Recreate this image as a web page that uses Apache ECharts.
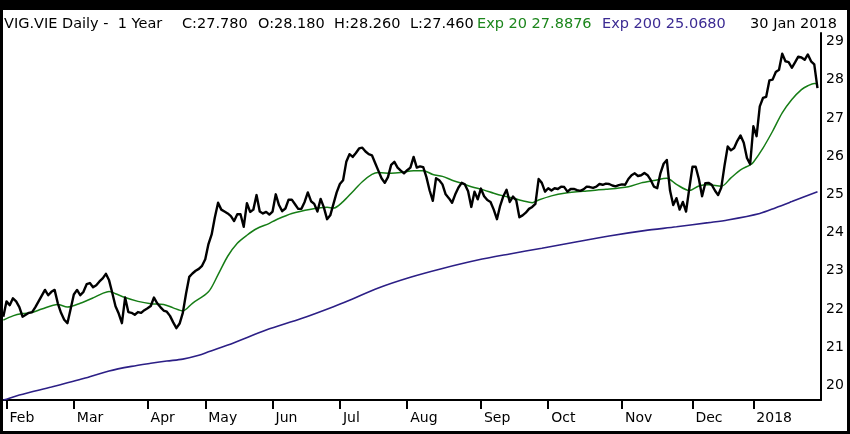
<!DOCTYPE html>
<html>
<head>
<meta charset="utf-8">
<script src="https://cdn.jsdelivr.net/npm/echarts@6/dist/echarts.min.js"></script>
<style>
html,body{margin:0;padding:0;background:#fff;}
#c{width:850px;height:434px;}
</style>
</head>
<body>
<div id="c"></div>
<script>
// ---- data (x = trading-day number, day 0 = 31 Jan 2017) ----
const monthTickDay = [1, 22, 45, 63, 84, 105, 126, 149, 170, 193, 215, 234];
const monthLabels = ['Feb', 'Mar', 'Apr', 'May', 'Jun', 'Jul', 'Aug', 'Sep', 'Oct', 'Nov', 'Dec', '2018'];
const priceTicks = [20, 21, 22, 23, 24, 25, 26, 27, 28, 29];

const closeFirstDay = 0;
const closes = [
  21.8, 22.2, 22.1, 22.28, 22.2, 22.05, 21.8, 21.85, 21.9, 21.92,
  22.05, 22.2, 22.35, 22.5, 22.36, 22.45, 22.5, 22.15, 21.9, 21.72,
  21.63, 22.0, 22.38, 22.5, 22.36, 22.45, 22.65, 22.68, 22.57, 22.62,
  22.72, 22.8, 22.92, 22.75, 22.42, 22.07, 21.88, 21.63, 22.3, 21.92,
  21.9, 21.85, 21.92, 21.9,
  21.97, 22.02, 22.08, 22.3, 22.15, 22.05, 21.96, 21.93, 21.82, 21.65,
  21.5, 21.62, 21.9, 22.4, 22.84, 22.93, 23.0, 23.05, 23.13, 23.3,
  23.7, 23.95, 24.4, 24.78, 24.6, 24.55, 24.5, 24.43, 24.3, 24.48,
  24.48, 24.15, 24.77, 24.54, 24.6, 24.98, 24.55, 24.5,
  24.54, 24.47, 24.55, 25.0, 24.72, 24.56, 24.63, 24.86, 24.86, 24.74,
  24.62, 24.62, 24.8, 25.05, 24.82, 24.75, 24.55, 24.88, 24.66, 24.35,
  24.45, 24.75, 25.05, 25.27, 25.37, 25.85, 26.05, 25.98, 26.08, 26.2,
  26.22, 26.12, 26.05, 26.02, 25.82, 25.62, 25.42, 25.3, 25.45, 25.77,
  25.85, 25.7, 25.62, 25.55, 25.63, 25.7,
  25.98, 25.7, 25.73, 25.71, 25.45, 25.1, 24.83, 25.42, 25.37, 25.26,
  25.0, 24.9, 24.78, 25.0, 25.18, 25.3, 25.26, 25.08, 24.67, 25.07,
  24.87, 25.15, 24.95, 24.85, 24.8, 24.6, 24.35, 24.7, 24.95, 25.12,
  24.8, 24.94, 24.85, 24.4, 24.45, 24.52, 24.62, 24.67, 24.75, 25.4,
  25.3, 25.07, 25.16, 25.1, 25.16, 25.14, 25.2, 25.19,
  25.07, 25.14, 25.14, 25.11, 25.09, 25.13, 25.2, 25.19, 25.17, 25.2,
  25.27, 25.25, 25.28, 25.27, 25.23, 25.21, 25.24, 25.26, 25.25, 25.4,
  25.5, 25.55, 25.48, 25.5, 25.56, 25.5, 25.37, 25.2,
  25.16, 25.55, 25.8, 25.9, 25.1, 24.72, 24.9, 24.6, 24.8, 24.55,
  25.15, 25.72, 25.72, 25.4, 24.95, 25.29, 25.3, 25.25, 25.1, 24.98,
  25.18, 25.75, 26.25, 26.15, 26.21, 26.4, 26.54, 26.35, 25.95, 25.79,
  26.78, 26.52, 27.3, 27.52, 27.55, 27.98, 28.0, 28.2, 28.26, 28.68,
  28.48, 28.46, 28.31, 28.45, 28.6, 28.58, 28.52, 28.66, 28.48, 28.4,
  27.78
];

const ema20Day = [0, 3, 6, 9, 12, 17, 20, 24, 28, 31, 33, 35, 38, 42, 46, 50, 53, 56, 59, 64,
  67, 70, 73, 76, 79, 83, 85, 90, 96, 101, 103, 106, 109, 112, 115, 117, 121, 124, 128, 131,
  134, 137, 140, 143, 146, 150, 153, 156, 159, 162, 165, 167, 171, 175, 182, 188, 195, 199, 203, 207,
  210, 214, 217, 220, 224, 227, 230, 233, 234, 237, 240, 243, 246, 249, 251, 253, 254];
const ema20Val = [21.71, 21.82, 21.88, 21.91, 22.0, 22.12, 22.05, 22.15, 22.29, 22.41, 22.46, 22.4, 22.3, 22.2, 22.14, 22.12, 22.03, 21.95, 22.15, 22.45,
  22.9, 23.38, 23.72, 23.93, 24.1, 24.24, 24.33, 24.5, 24.61, 24.66, 24.64, 24.81, 25.07, 25.33, 25.52, 25.57, 25.55, 25.57, 25.62, 25.62,
  25.52, 25.47, 25.37, 25.29, 25.2, 25.11, 25.03, 24.96, 24.9, 24.83, 24.78, 24.85, 24.96, 25.03, 25.09, 25.13, 25.2, 25.3, 25.36, 25.42,
  25.26, 25.1, 25.22, 25.25, 25.21, 25.43, 25.64, 25.77, 25.84, 26.21, 26.65, 27.13, 27.48, 27.74, 27.84, 27.9, 27.89];

const ema200Day = [0, 1, 5, 15, 20, 25, 33, 40, 46, 51, 56, 61, 64, 72, 82, 93, 103, 108, 117, 127,
  137, 148, 158, 168, 179, 189, 200, 210, 220, 226, 236, 241, 246, 254];
const ema200Val = [19.62, 19.64, 19.75, 19.96, 20.07, 20.18, 20.38, 20.5, 20.58, 20.64, 20.69, 20.79, 20.88, 21.12, 21.45, 21.75, 22.06, 22.23, 22.55, 22.83,
  23.06, 23.28, 23.44, 23.59, 23.76, 23.91, 24.05, 24.15, 24.26, 24.33, 24.5, 24.65, 24.81, 25.07];

// ---- chart ----
const pair = (days, vals) => vals.map((v, i) => [days[i], v]);
const closeData = closes.map((v, i) => [closeFirstDay + i, v]);

const FONT = '"DejaVu Sans", Verdana, sans-serif';
const chart = echarts.init(document.getElementById('c'), null, {renderer: 'canvas'});

function headText(text, x, color, align) {
  return {
    type: 'text', x: x, y: 24, z: 100,
    style: {
      text: text, fill: color, font: '14.5px ' + FONT,
      textAlign: align || 'left', align: align || 'left',
      textVerticalAlign: 'middle', verticalAlign: 'middle'
    }
  };
}

chart.setOption({
  animation: false,
  backgroundColor: '#fff',
  grid: {left: 3, right: 29, top: 33, bottom: 34, containLabel: false},
  xAxis: {
    type: 'value', min: -0.1, max: 255.1,
    axisLine: {show: true, onZero: false, lineStyle: {color: '#000', width: 2}},
    axisTick: {show: true, customValues: monthTickDay, length: 9, lineStyle: {color: '#000', width: 2}},
    axisLabel: {
      show: true, customValues: monthTickDay,
      formatter: v => monthLabels[monthTickDay.indexOf(Math.round(v))] || '',
      align: 'left', margin: 11, padding: [0, 0, 0, 3],
      color: '#000', fontFamily: FONT, fontSize: 14
    },
    splitLine: {show: false}
  },
  yAxis: {
    type: 'value', position: 'right', min: 19.62, max: 29.22, scale: true,
    axisLine: {show: true, onZero: false, lineStyle: {color: '#000', width: 2}},
    axisTick: {show: false},
    axisLabel: {
      show: true, customValues: priceTicks, margin: 5,
      color: '#000', fontFamily: FONT, fontSize: 14
    },
    splitLine: {show: false}
  },
  series: [
    {
      name: 'Exp 200', type: 'line', data: pair(ema200Day, ema200Val),
      smooth: 0.3, showSymbol: false, z: 2,
      lineStyle: {color: '#2c1f86', width: 1.6}
    },
    {
      name: 'Exp 20', type: 'line', data: pair(ema20Day, ema20Val),
      smooth: 0.3, showSymbol: false, z: 3,
      lineStyle: {color: '#167d16', width: 1.5}
    },
    {
      name: 'VIG.VIE', type: 'line', data: closeData,
      showSymbol: false, z: 4,
      lineStyle: {color: '#000', width: 2.4, join: 'round'}
    }
  ],
  graphic: [
    {type: 'rect', shape: {x: 0, y: 0, width: 850, height: 10}, style: {fill: '#000'}, z: 200},
    {type: 'rect', shape: {x: 0, y: 0, width: 3, height: 434}, style: {fill: '#000'}, z: 200},
    {type: 'rect', shape: {x: 847, y: 0, width: 3, height: 434}, style: {fill: '#000'}, z: 200},
    {type: 'rect', shape: {x: 0, y: 431, width: 850, height: 3}, style: {fill: '#000'}, z: 200},
    headText('VIG.VIE Daily -  1 Year', 4, '#000'),
    headText('C:27.780', 182, '#000'),
    headText('O:28.180', 258, '#000'),
    headText('H:28.260', 334, '#000'),
    headText('L:27.460', 410, '#000'),
    headText('Exp 20 27.8876', 477, '#1c861c'),
    headText('Exp 200 25.0680', 602, '#3c2b93'),
    headText('30 Jan 2018', 837, '#000', 'right')
  ]
});
</script>
</body>
</html>
